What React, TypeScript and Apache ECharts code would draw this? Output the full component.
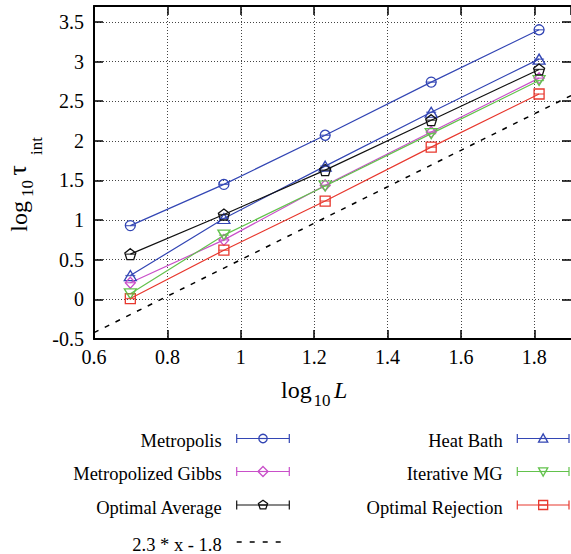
import React, { useEffect, useRef } from 'react';
import * as echarts from 'echarts';

// ---- data ----
const logL = [0.699, 0.954, 1.23, 1.519, 1.813];
const metropolis = [0.93, 1.45, 2.07, 2.74, 3.4];
const heatBath = [0.3, 1.02, 1.68, 2.36, 3.03];
const metGibbs = [0.21, 0.75, 1.44, 2.11, 2.79];
const iterativeMG = [0.07, 0.81, 1.43, 2.09, 2.76];
const optAverage = [0.57, 1.07, 1.63, 2.26, 2.9];
const optRejection = [0.01, 0.62, 1.24, 1.92, 2.59];
const fitX = [0.6, 1.9];
const fitY = [-0.42, 2.57];
const fitLabel = '2.3 * x - 1.8';

const FONT = 'Liberation Serif, serif';
const BLUE = '#3346b4';
const MAGENTA = '#c94fc9';
const GREEN = '#62c24c';
const BLACK = '#111111';
const RED = '#e8382e';

const PENTAGON = 'path://M0,-10L9.511,-3.09L5.878,8.09L-5.878,8.09L-9.511,-3.09Z';
const DOWN_TRI = 'path://M-10,-8.66L10,-8.66L0,8.66Z';

type Def = { name: string; data: number[]; color: string; symbol: string; size: any; kind: string };
const defs: Def[] = [
  { name: 'Metropolis', data: metropolis, color: BLUE, symbol: 'circle', size: 10, kind: 'circle' },
  { name: 'Heat Bath', data: heatBath, color: BLUE, symbol: 'triangle', size: [12, 10], kind: 'tri' },
  { name: 'Metropolized Gibbs', data: metGibbs, color: MAGENTA, symbol: 'diamond', size: [10, 11], kind: 'diamond' },
  { name: 'Iterative MG', data: iterativeMG, color: GREEN, symbol: DOWN_TRI, size: [12, 10], kind: 'dtri' },
  { name: 'Optimal Average', data: optAverage, color: BLACK, symbol: PENTAGON, size: 11, kind: 'pent' },
  { name: 'Optimal Rejection', data: optRejection, color: RED, symbol: 'rect', size: 10, kind: 'square' },
];

const leftColumn = ['Metropolis', 'Metropolized Gibbs', 'Optimal Average'];
const rightColumn = ['Heat Bath', 'Iterative MG', 'Optimal Rejection'];
const rowY = [438.5, 471.5, 505];

function marker(kind: string, cx: number, cy: number, c: string): any {
  const style = { fill: 'none', stroke: c, lineWidth: 1.3 };
  switch (kind) {
    case 'circle':
      return { type: 'circle', shape: { cx, cy, r: 4.2 }, style };
    case 'tri':
      return { type: 'polygon', shape: { points: [[cx - 4.6, cy + 3.6], [cx + 4.6, cy + 3.6], [cx, cy - 4.6]] }, style };
    case 'dtri':
      return { type: 'polygon', shape: { points: [[cx - 4.6, cy - 3.6], [cx + 4.6, cy - 3.6], [cx, cy + 4.6]] }, style };
    case 'diamond':
      return { type: 'polygon', shape: { points: [[cx, cy - 5], [cx + 5, cy], [cx, cy + 5], [cx - 5, cy]] }, style };
    case 'pent': {
      const pts: number[][] = [];
      for (let k = 0; k < 5; k++) {
        const a = -Math.PI / 2 + (k * 2 * Math.PI) / 5;
        pts.push([cx + 4.8 * Math.cos(a), cy + 4.8 * Math.sin(a)]);
      }
      return { type: 'polygon', shape: { points: pts }, style };
    }
    default:
      return { type: 'rect', shape: { x: cx - 4.5, y: cy - 4.5, width: 9, height: 9 }, style };
  }
}

function legendItem(d: Def, textRight: number, x1: number, x2: number, y: number): any[] {
  const c = d.color;
  const ls = { stroke: c, lineWidth: 1.2 };
  return [
    {
      type: 'text', x: textRight, y: y + 2.5,
      style: { text: d.name, fontSize: 18.5, fontFamily: FONT, fill: '#000', align: 'right', verticalAlign: 'middle', textAlign: 'right', textVerticalAlign: 'middle' },
    },
    { type: 'line', shape: { x1, y1: y, x2, y2: y }, style: ls },
    { type: 'line', shape: { x1, y1: y - 4.5, x2: x1, y2: y + 4.5 }, style: ls },
    { type: 'line', shape: { x1: x2, y1: y - 4.5, x2, y2: y + 4.5 }, style: ls },
    { type: 'line', shape: { x1: (x1 + x2) / 2 - 4.5, y1: y, x2: (x1 + x2) / 2 + 4.5, y2: y }, style: ls },
    marker(d.kind, (x1 + x2) / 2, y, c),
  ];
}

function txt(text: string, x: number, y: number, fontSize: number, extra: any = {}, rotation = 0): any {
  return {
    type: 'text', x, y, rotation,
    style: { text, fontSize, fontFamily: FONT, fill: '#000', align: 'left', verticalAlign: 'middle', textAlign: 'left', textVerticalAlign: 'middle', ...extra },
  };
}

export default function App() {
  const ref = useRef<HTMLDivElement>(null);
  useEffect(() => {
    if (!ref.current) return;
    const chart = echarts.init(ref.current, null, { renderer: 'svg' });

    const series: any[] = [];
    series.push({
      type: 'line', name: fitLabel, data: fitX.map((x, i) => [x, fitY[i]]), symbol: 'none',
      lineStyle: { color: '#000', width: 1.5, type: [5, 7] }, z: 2, silent: true,
    });
    defs.forEach((d) => {
      const pts = logL.map((x, i) => [x, d.data[i]]);
      series.push({
        type: 'line', name: d.name, data: pts, symbol: d.symbol, symbolSize: d.size, showAllSymbol: true,
        lineStyle: { color: d.color, width: 1.2 },
        itemStyle: { color: 'rgba(255,255,255,0)', borderColor: d.color, borderWidth: 1.3 },
        z: 3, silent: true,
      });
      series.push({
        type: 'scatter', name: d.name + ' err', data: pts, symbol: 'rect', symbolSize: [10, 1.3],
        itemStyle: { color: d.color }, z: 4, silent: true,
      });
    });

    const graphic: any[] = [];
    defs.forEach((d) => {
      const li = leftColumn.indexOf(d.name);
      if (li >= 0) graphic.push(...legendItem(d, 221.7, 236.7, 289.3, rowY[li]));
      const ri = rightColumn.indexOf(d.name);
      if (ri >= 0) graphic.push(...legendItem(d, 502.7, 517.3, 569, rowY[ri]));
    });
    graphic.push({
      type: 'text', x: 221.7, y: 544.5,
      style: { text: fitLabel, fontSize: 18.5, fontFamily: FONT, fill: '#000', align: 'right', verticalAlign: 'middle', textAlign: 'right', textVerticalAlign: 'middle' },
    });
    graphic.push({ type: 'line', shape: { x1: 236.7, y1: 542, x2: 284, y2: 542 }, style: { stroke: '#000', lineWidth: 1.4, lineDash: [5, 8] } });

    // axis titles
    graphic.push(txt('log', 281, 390.3, 24));
    graphic.push(txt('10', 313.5, 400.4, 17));
    graphic.push(txt('L', 334, 390.3, 24, { fontStyle: 'italic' }));
    graphic.push(txt('log', 19, 231.7, 24, {}, Math.PI / 2));
    graphic.push(txt('10', 27.7, 197, 17, {}, Math.PI / 2));
    graphic.push(txt('τ', 17.5, 175.5, 26, {}, Math.PI / 2));
    graphic.push(txt('int', 36, 155, 17, {}, Math.PI / 2));

    const splitStyle = { color: '#444', width: 1, type: [1, 2] };
    const tickStyle = { color: '#000', width: 1.5 };
    const lineAx = { show: true, onZero: false, lineStyle: { color: '#000', width: 2 } };

    chart.setOption({
      animation: false,
      backgroundColor: '#fff',
      grid: { left: 94, right: 0, top: 6, bottom: 215, containLabel: false },
      xAxis: [
        {
          type: 'value', min: 0.6, max: 1.9, interval: 0.2, position: 'bottom',
          axisLine: lineAx,
          axisTick: { inside: true, length: 9, lineStyle: tickStyle },
          axisLabel: { fontFamily: FONT, fontSize: 20, color: '#000', margin: 8, showMaxLabel: false },
          splitLine: { show: true, lineStyle: splitStyle },
        },
        {
          type: 'value', min: 0.6, max: 1.9, interval: 0.2, position: 'top',
          axisLine: lineAx,
          axisTick: { inside: true, length: 9, lineStyle: tickStyle },
          axisLabel: { show: false },
          splitLine: { show: false },
        },
      ],
      yAxis: [
        {
          type: 'value', min: -0.5, max: 3.7, interval: 0.5, position: 'left',
          axisLine: lineAx,
          axisTick: { inside: true, length: 9, lineStyle: tickStyle },
          axisLabel: { fontFamily: FONT, fontSize: 20, color: '#000', margin: 10, showMaxLabel: false },
          splitLine: { show: true, lineStyle: splitStyle },
        },
        {
          type: 'value', min: -0.5, max: 3.7, interval: 0.5, position: 'right',
          axisLine: { show: false, onZero: false },
          axisTick: { show: true, inside: true, length: 9, lineStyle: tickStyle },
          axisLabel: { show: false },
          splitLine: { show: false },
        },
      ],
      series,
      graphic,
    });
    return () => chart.dispose();
  }, []);
  return (
    <div
      ref={ref}
      style={{ position: 'fixed', left: 0, top: 0, width: 571, height: 554, background: '#fff' }}
    />
  );
}
